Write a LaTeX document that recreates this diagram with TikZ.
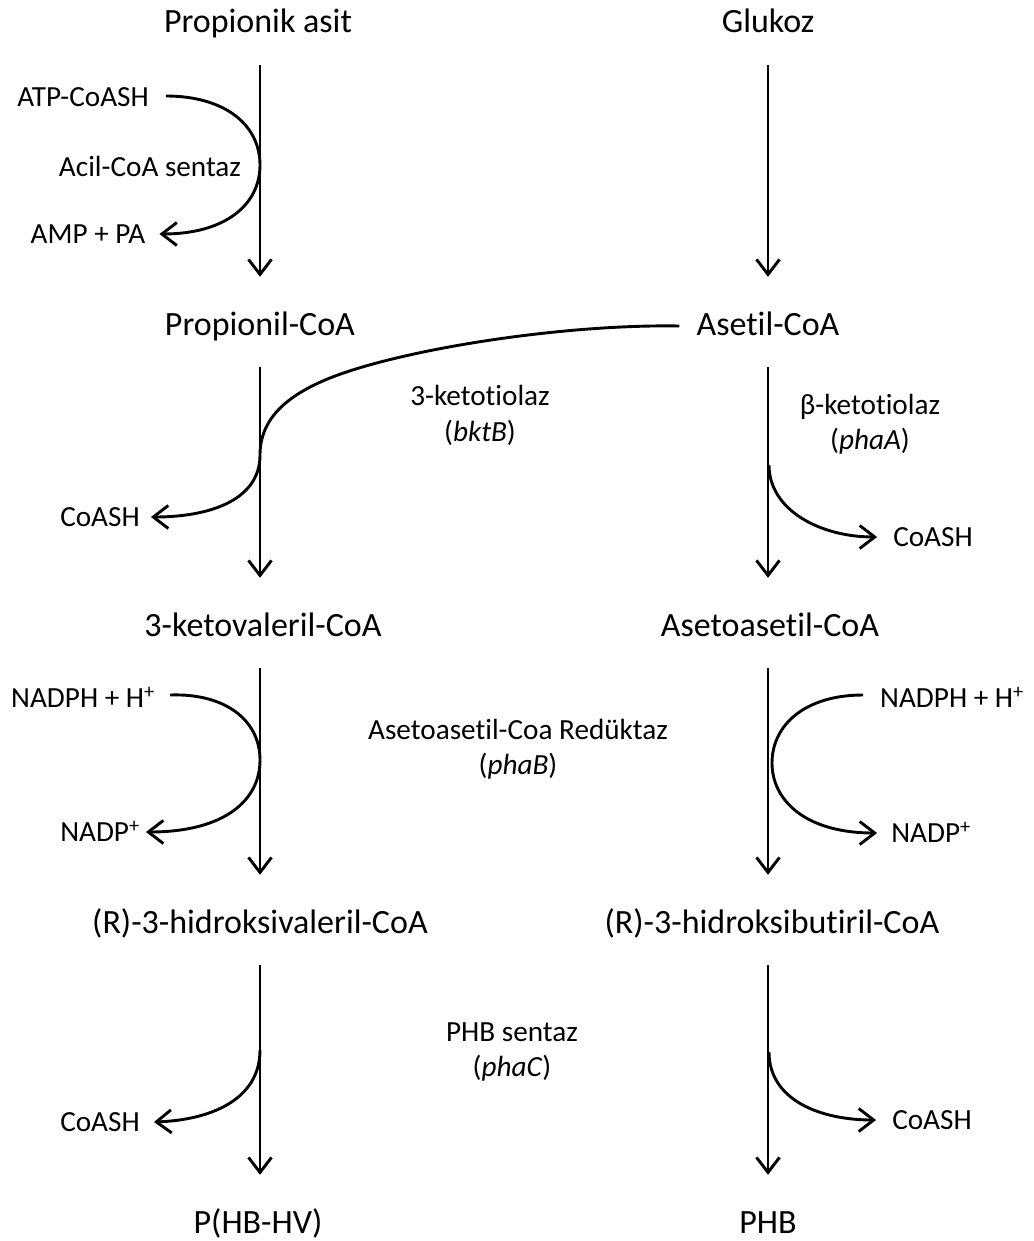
\documentclass[tikz,border=0pt]{standalone}
\usepackage{fontspec}
\setmainfont{Carlito}[Ligatures={NoCommon,NoContextual,NoRequired},RawFeature={-calt;-clig;-liga;-dlig}]
\usetikzlibrary{arrows.meta}
\newcommand{\nt}{t\kern0pt }
\begin{document}
\begin{tikzpicture}[x=1pt,y=-1pt,
  big/.style={font=\fontsize{34}{40}\selectfont, inner sep=0pt, text height=22pt, text depth=8pt},
  small/.style={font=\fontsize{29.2}{34}\selectfont, inner sep=0pt, text height=19pt, text depth=6pt},
  arr/.style={line width=2.9pt, -{Straight Barb[length=15pt,width=23pt]}},
  vert/.style={arr, shorten <=24pt, shorten >=36pt}]
\useasboundingbox (0,0) rectangle (1033,1241);
\coordinate (colL) at (260,0);
\coordinate (colR) at (768,0);
% main nodes
\node[big] (ps)  at (258,26)   {Propionik asit};
\node[big] (gl)  at (768,26)   {Glukoz};
\node[big] (pc)  at (260,328)  {Propionil-CoA};
\node[big] (ac)  at (768,328)  {Ase\nt il-CoA};
\node[big] (kv)  at (263,629)  {3-ketovaleril-CoA};
\node[big] (aa)  at (770,629)  {Asetoase\nt il-CoA};
\node[big] (hv)  at (260,926)  {(R)-3-hidroksivaleril-CoA};
\node[big] (hb)  at (772,926)  {(R)-3-hidroksibu\nt iril-CoA};
\node[big] (phv) at (258,1226) {P(HB-HV)};
\node[big] (phb) at (768,1226) {PHB};
% vertical arrows
\draw[vert] (ps.south -| colL) -- (pc.north -| colL);
\draw[vert] (gl.south -| colR) -- (ac.north -| colR);
\draw[vert] (pc.south -| colL) -- (kv.north -| colL);
\draw[vert] (ac.south -| colR) -- (aa.north -| colR);
\draw[vert] (kv.south -| colL) -- (hv.north -| colL);
\draw[vert] (aa.south -| colR) -- (hb.north -| colR);
\draw[vert] (hv.south -| colL) -- (phv.north -| colL);
\draw[vert] (hb.south -| colR) -- (phb.north -| colR);
% side texts
\node[small] (atp) at (83,100) {ATP-CoASH};
\node[small] (amp) at (88,237) {AMP + PA};
\node[small] (acs) at (150,170) {Acil-CoA sentaz};
\node[small] (coa1) at (100,520) {CoASH};
\node[small] (kt1) at (480,399) {3-keto\nt iolaz};
\node[small] (kt2) at (480,435) {(\textit{bktB})};
\node[small] (bk1) at (870,408) {β-keto\nt iolaz};
\node[small] (bk2) at (870,443) {(\textit{phaA})};
\node[small] (coa2) at (933,540) {CoASH};
\node[small] (nadph1) at (83,701) {NADPH + H\textsuperscript{+}};
\node[small] (nadp1) at (100,835) {NADP\textsuperscript{+}};
\node[small] (nadph2) at (952,701) {NADPH + H\textsuperscript{+}};
\node[small] (nadp2) at (931,836) {NADP\textsuperscript{+}};
\node[small] (red1) at (518,733) {Asetoase\nt il-Coa Redüktaz};
\node[small] (red2) at (518,768) {(\textit{phaB})};
\node[small] (coa3) at (100,1125) {CoASH};
\node[small] (phc1) at (512,1035) {PHB sentaz};
\node[small] (phc2) at (512,1070) {(\textit{phaC})};
\node[small] (coa4) at (932,1123) {CoASH};
% branch coordinates
\coordinate (b1) at (769,465);
\coordinate (b3) at (260,1050);
\coordinate (b4) at (769,1052);
% side curves
\draw[arr] ([shift={(17,-4)}]atp.east) .. controls (225,96) and (260,125) .. (260,165)
  .. controls (260,205) and (225,234) .. ([shift={(14,-3)}]amp.east);
\draw[arr] ([shift={(-17,-2)}]ac.west) .. controls (560,324) and (400,350) .. (330,378)
  .. controls (285,396) and (260,420) .. (260,455)
  .. controls (260,500) and (210,517) .. ([shift={(11,-3)}]coa1.east);
\draw[arr] (b1) .. controls (769,510) and (820,537) .. ([shift={(-16,-3)}]coa2.west);
\draw[arr] ([shift={(15,-6)}]nadph1.east) .. controls (225,693) and (260,720) .. (260,760)
  .. controls (260,800) and (225,832) .. ([shift={(6,-3)}]nadp1.east);
\draw[arr] ([shift={(-17,-6)}]nadph2.west) .. controls (805,695) and (772,725) .. (772,763)
  .. controls (772,800) and (805,833) .. ([shift={(-14,-3)}]nadp2.west);
\draw[arr] (b3) .. controls (260,1100) and (210,1120) .. ([shift={(14,-3)}]coa3.east);
\draw[arr] (b4) .. controls (769,1100) and (820,1120) .. ([shift={(-16,-3)}]coa4.west);
\end{tikzpicture}
\end{document}
